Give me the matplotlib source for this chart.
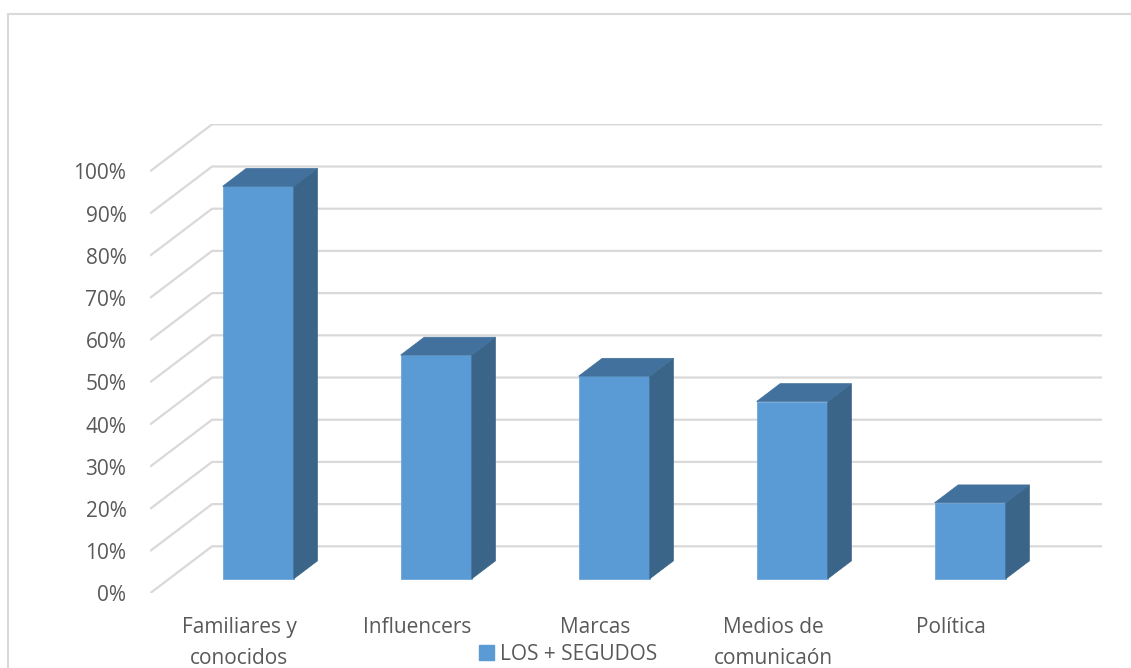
import matplotlib
matplotlib.use('Agg')
import matplotlib.pyplot as plt
from matplotlib.patches import Polygon, Patch, Rectangle

# datos
categorias = ["Familiares y\nconocidos", "Influencers", "Marcas", "Medios de\ncomunicaón", "Política"]
valores = [93, 53, 48, 42, 18]
ticks_y = [0, 10, 20, 30, 40, 50, 60, 70, 80, 90, 100]
serie = "LOS + SEGUDOS"

plt.rcParams['font.family'] = ['Open Sans', 'DejaVu Sans']

# proyeccion oblicua (estilo 3D de Excel)
DX = 0.3487   # desplazamiento en x por profundidad (unidades de categoria)
DY = 11.14    # desplazamiento en y por profundidad (%)
F0, F1 = 0.31, 0.69   # profundidad frontal / trasera de las barras
ANCHO = 0.4

col_frente = '#5B9BD5'
col_arriba = '#41719C'
col_lado = '#3A6488'
col_grid = '#D9D9D9'
col_texto = '#595959'

fig = plt.figure(figsize=(11.31, 6.68), dpi=100)
ax = fig.add_axes([150 / 1131, 0.1118, 952 / 1131, 0.7021])
n = len(categorias)
ax.set_xlim(0, n + DX)
ax.set_ylim(0, 100 + DY)

# lineas de cuadricula (pared y diagonal del suelo)
for v in ticks_y:
    ax.plot([0, DX, n + DX], [v, v + DY, v + DY], color=col_grid, lw=1.6,
            solid_capstyle='butt', zorder=1)

# barras
centros = [i + 0.5 for i in range(n)]
ax.bar([c + F0 * DX for c in centros], valores, width=ANCHO, bottom=F0 * DY,
       color=col_frente, edgecolor='#6FA6D8', linewidth=0.6, zorder=3)
for c, v in zip(centros, valores):
    x0 = c - ANCHO / 2 + F0 * DX
    x1 = c + ANCHO / 2 + F0 * DX
    y0 = F0 * DY
    dx = (F1 - F0) * DX
    dy = (F1 - F0) * DY
    lado = Polygon([(x1, y0), (x1 + dx, y0 + dy), (x1 + dx, y0 + v + dy), (x1, y0 + v)],
                   closed=True, facecolor=col_lado, edgecolor=col_lado, lw=0.5, zorder=3)
    arriba = Polygon([(x0, y0 + v), (x0 + dx, y0 + v + dy), (x1 + dx, y0 + v + dy), (x1, y0 + v)],
                     closed=True, facecolor=col_arriba, edgecolor=col_arriba, lw=0.5, zorder=3)
    ax.add_patch(lado)
    ax.add_patch(arriba)

# ejes
for s in ax.spines.values():
    s.set_visible(False)
ax.set_yticks(ticks_y)
ax.set_yticklabels([f"{t}%" for t in ticks_y])
ax.set_xticks(centros)
ax.set_xticklabels(categorias, linespacing=1.6)
ax.tick_params(axis='y', length=0, pad=17, labelsize=15, labelcolor=col_texto)
ax.tick_params(axis='x', length=0, pad=17, labelsize=15, labelcolor=col_texto)

# leyenda
fig.legend(handles=[Patch(facecolor=col_frente, edgecolor=col_frente)], labels=[serie],
           loc='center', bbox_to_anchor=(568 / 1131, 1 - 654 / 668), frameon=False,
           fontsize=15, labelcolor=col_texto, handlelength=0.7, handleheight=0.7,
           handletextpad=0.3, borderpad=0)

# borde del area del grafico
fig.patches.append(Rectangle((8 / 1131, -0.1), 1.2, (668 - 14) / 668 + 0.1,
                             transform=fig.transFigure, fill=False,
                             edgecolor=col_grid, lw=1.5, zorder=0))

fig.savefig('out.png', dpi=100)
